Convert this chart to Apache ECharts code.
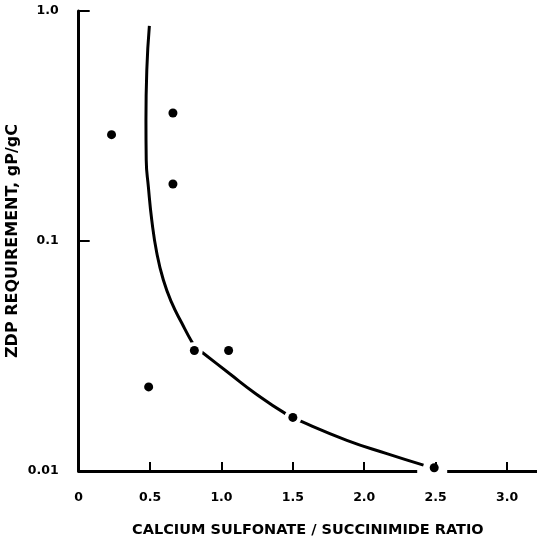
<!DOCTYPE html>
<html><head><meta charset="utf-8">
<script src="https://cdn.jsdelivr.net/npm/echarts@6/dist/echarts.min.js"></script>
<style>html,body{margin:0;padding:0;background:#fff}#c{width:537px;height:544px}</style>
</head><body><div id="c"></div>
<script>
// measured points
const pointX = [0.23, 0.66, 0.66, 0.49, 0.81, 1.05, 1.50, 2.49];
const pointY = [0.29, 0.36, 0.177, 0.0232, 0.0334, 0.0334, 0.0171, 0.01033];
// hand-drawn fitted curve, traced
const curveX = [0.495, 0.477, 0.471, 0.473, 0.488, 0.512, 0.547, 0.593, 0.652, 0.722, 0.792, 0.829, 0.873, 1.060, 1.235, 1.446, 1.563, 1.878, 2.158, 2.415];
const curveY = [0.861, 0.554, 0.336, 0.225, 0.172, 0.123, 0.0887, 0.0677, 0.0538, 0.0440, 0.0365, 0.0341, 0.0325, 0.0264, 0.0218, 0.0178, 0.01638, 0.0136, 0.0119, 0.0106];
const xTickLabels = ['0', '0.5', '1.0', '1.5', '2.0', '2.5', '3.0'];
const yTickLabels = {'1': '1.0', '0.1': '0.1', '0.01': '0.01'};
const xTitle = 'CALCIUM SULFONATE / SUCCINIMIDE RATIO';
const yTitle = 'ZDP REQUIREMENT, gP/gC';
const haloIdx = [4, 6];
const axisGapIdx = 7;

const font = 'DejaVu Sans';
const chart = echarts.init(document.getElementById('c'));
const pts = pointX.map((x, i) => [x, pointY[i]]);
const curve = curveX.map((x, i) => [x, curveY[i]]);
chart.setOption({
  animation: false,
  backgroundColor: '#fff',
  grid: {left: 78.7, right: 0, top: 11, bottom: 73, containLabel: false, outerBoundsMode: 'none'},
  xAxis: {
    type: 'value', min: 0, max: 3.21, interval: 0.5,
    name: xTitle, nameLocation: 'middle', nameGap: 52,
    nameTextStyle: {fontFamily: font, fontWeight: 'bold', fontSize: 14.5, color: '#000'},
    axisLine: {onZero: false, lineStyle: {color: '#000', width: 3}},
    axisTick: {inside: true, length: 9, lineStyle: {color: '#000', width: 2}},
    splitLine: {show: false},
    axisLabel: {showMaxLabel: false, margin: 20, fontFamily: font, fontWeight: 'bold', fontSize: 12.5, color: '#000',
      formatter: v => { const i = Math.round(v / 0.5); return Math.abs(v - i * 0.5) < 1e-6 ? (xTickLabels[i] || '') : ''; }}
  },
  yAxis: {
    type: 'log', logBase: 10, min: 0.01, max: 1,
    name: yTitle, nameLocation: 'middle', nameGap: 58, nameMoveOverlap: false,
    nameTextStyle: {fontFamily: font, fontWeight: 'bold', fontSize: 16, color: '#000'},
    axisLine: {lineStyle: {color: '#000', width: 3}},
    axisTick: {inside: true, length: 11, lineStyle: {color: '#000', width: 2}},
    splitLine: {show: false},
    axisLabel: {margin: 20, fontFamily: font, fontWeight: 'bold', fontSize: 12.5, color: '#000',
      formatter: v => yTickLabels[String(+v.toPrecision(3))] || ''}
  },
  series: [
    {type: 'line', data: curve, smooth: 0.5, symbol: 'none', lineStyle: {color: '#000', width: 3}, z: 2},
    {type: 'scatter', z: 3, silent: true,
      data: haloIdx.map(i => pts[i]), symbol: 'circle', symbolSize: 17, itemStyle: {color: '#fff', opacity: 1}},
    {type: 'scatter', z: 3, silent: true,
      data: [pts[axisGapIdx]], symbol: 'rect', symbolSize: [30, 8], symbolOffset: [-2, 4], itemStyle: {color: '#fff', opacity: 1}},
    {type: 'scatter', z: 4, data: pts, symbol: 'circle', symbolSize: 9, itemStyle: {color: '#000', opacity: 1}}
  ]
});
</script></body></html>
